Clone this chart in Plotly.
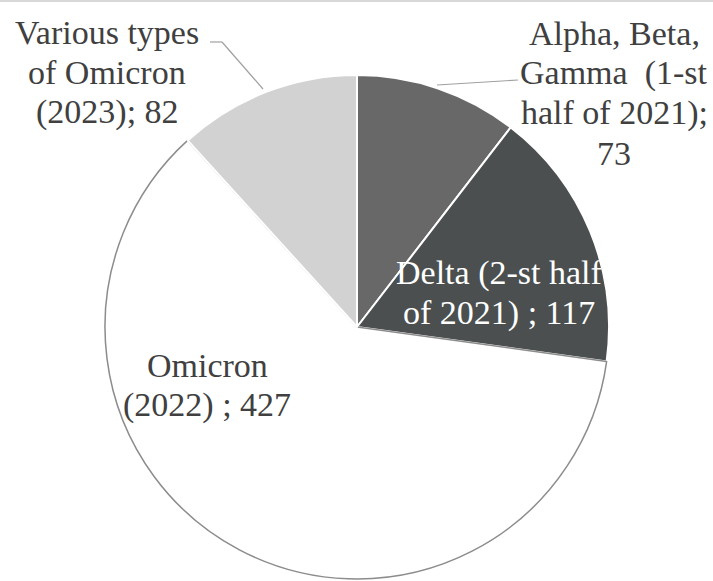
import plotly.graph_objects as go

W, H = 713, 581

labels = ["Alpha, Beta, Gamma (1-st half of 2021)", "Delta (2-st half of 2021)",
          "Omicron (2022)", "Various types of Omicron (2023)"]
values = [73, 117, 427, 82]
colors = ["#686868", "#4b4f4f", "#ffffff", "#d2d2d2"]
line_colors = ["#ffffff", "#ffffff", "#8c8c8c", "#ffffff"]
line_widths = [2, 2, 1.5, 2]

# label text lines (one list per slice)
label_lines = [
    ["Alpha, Beta,", "Gamma  (1-st", "half of 2021);", "73"],
    ["Delta (2-st half", "of 2021) ; 117"],
    ["Omicron", "(2022) ; 427"],
    ["Various types", "of Omicron", "(2023); 82"],
]
# layout: label centre x (px) and first baseline (px), line spacing
label_pos = [(614, 43), (499, 283), (207, 375), (107, 42)]
label_color = ["#404040", "#ffffff", "#404040", "#404040"]
line_gap = 40
FONT = "Liberation Serif"
FS = 34

fig = go.Figure()
cx, cy, r = 357, 327, 252
fig.add_trace(go.Pie(
    labels=labels, values=values, sort=False, direction="clockwise", rotation=0,
    marker=dict(colors=colors, line=dict(color=line_colors, width=line_widths)),
    textinfo="none", hoverinfo="label+value", showlegend=False,
    domain=dict(x=[(cx - r) / W, (cx + r) / W], y=[(H - (cy + r)) / H, (H - (cy - r)) / H]),
))

anns = []
for lines, (x, b), col in zip(label_lines, label_pos, label_color):
    for i, t in enumerate(lines):
        base = b + i * line_gap
        anns.append(dict(text=t, x=x / W, y=1 - (base - 10) / H, xref="paper", yref="paper",
                         xanchor="center", yanchor="middle", showarrow=False,
                         font=dict(family=FONT, size=FS, color=col)))

shapes = [
    dict(type="line", xref="paper", yref="paper", x0=0, x1=1, y0=1 - 1 / H, y1=1 - 1 / H,
         line=dict(color="#d8d8d8", width=2)),
    # leader for Various types
    dict(type="line", xref="paper", yref="paper", x0=210 / W, x1=222 / W, y0=1 - 42 / H, y1=1 - 42 / H,
         line=dict(color="#a0a0a0", width=1.2)),
    dict(type="line", xref="paper", yref="paper", x0=222 / W, x1=263 / W, y0=1 - 42 / H, y1=1 - 89 / H,
         line=dict(color="#a0a0a0", width=1.2)),
    # leader for Alpha
    dict(type="line", xref="paper", yref="paper", x0=437 / W, x1=518 / W, y0=1 - 85 / H, y1=1 - 80 / H,
         line=dict(color="#a0a0a0", width=1.2)),
]

fig.update_layout(width=W, height=H, margin=dict(l=0, r=0, t=0, b=0),
                  paper_bgcolor="white", plot_bgcolor="white",
                  font=dict(family=FONT),
                  annotations=anns, shapes=shapes)
fig.write_html("out.html")
